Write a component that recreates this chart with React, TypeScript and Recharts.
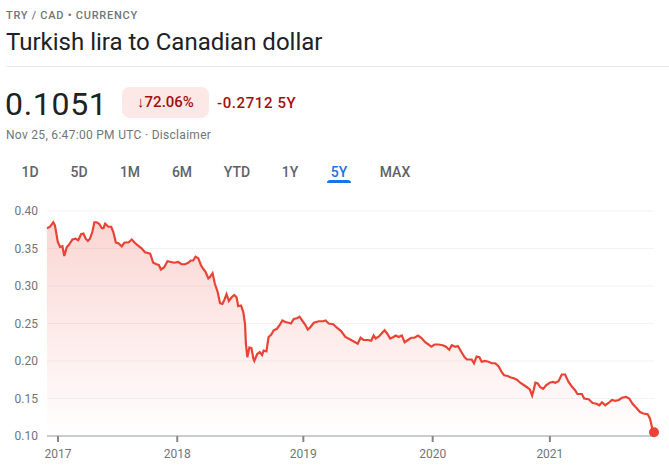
import { Area, AreaChart, CartesianGrid, ReferenceDot, XAxis, YAxis } from 'recharts';

// weeks since Nov 25, 2016 and TRY/CAD rate
const WEEKS = [
  0, 1.3, 2.7, 3.4, 4.6, 5.6, 6.6, 7.4, 8.5, 9.4, 10.9, 12.3, 13.4, 14.6, 15.6, 16.6, 17.5, 18.4, 19.4, 20.3,
  21.3, 22.3, 23.5, 24.2, 24.9, 26.3, 27.5, 28.4, 29.5, 30.6, 32.0, 33.2, 34.9, 36.3, 37.5, 38.9, 40.6, 42.0,
  44.2, 45.5, 46.9, 47.9, 48.8, 50.2, 51.6, 53.1, 54.5, 56.2, 57.6, 59.1, 60.5, 61.6, 62.6, 63.6, 64.8, 65.9,
  66.9, 67.9, 69.1, 69.8, 70.9, 71.9, 73.1, 74.1, 75.1, 75.9, 76.9, 77.9, 79.1, 80.2, 81.2, 81.9, 83.1, 84.1,
  84.8, 85.2, 85.8, 86.7, 87.6, 88.4, 88.8, 90.0, 91.1, 92.1, 92.8, 94.0, 94.9, 96.0, 97.1, 98.5, 99.7, 100.8,
  102.1, 103.5, 104.5, 105.7, 107.1, 108.2, 109.3, 110.7, 111.7, 112.8, 114.3, 116.4, 118.3, 119.3, 120.7,
  122.6, 124.3, 126.0, 127.8, 129.7, 131.4, 133.1, 134.3, 135.6, 137.4, 138.9, 139.9, 140.8, 142.3, 143.4,
  144.6, 145.6, 147.0, 148.4, 149.4, 150.6, 152.0, 153.2, 154.6, 156.0, 157.4, 158.9, 160.3, 162.0, 163.4,
  164.6, 166.0, 167.7, 169.5, 170.9, 172.3, 173.4, 174.9, 176.0, 177.5, 178.9, 179.9, 181.9, 182.9, 184.0,
  185.2, 186.2, 187.6, 189.1, 190.5, 192.0, 193.4, 194.8, 195.8, 197.3, 198.7, 199.9, 201.3, 202.7, 204.2,
  205.6, 206.8, 207.8, 208.5, 209.2, 210.2, 211.3, 212.5, 213.9, 215.3, 216.7, 217.7, 219.1, 220.5, 221.9,
  223.4, 224.8, 226.2, 227.2, 229.1, 230.1, 232.0, 233.7, 235.4, 236.6, 237.7, 239.1, 240.5, 242.0, 243.4,
  244.9, 246.3, 248.0, 249.4, 250.8, 252.6, 254.0, 255.4, 257.3, 258.3, 259.1, 260,
];

const RATES = [
  0.377, 0.379, 0.385, 0.381, 0.359, 0.352, 0.353, 0.34, 0.352, 0.355, 0.362, 0.363, 0.361, 0.369, 0.37, 0.363,
  0.36, 0.363, 0.372, 0.385, 0.385, 0.383, 0.377, 0.377, 0.383, 0.379, 0.379, 0.372, 0.358, 0.357, 0.353, 0.358,
  0.358, 0.362, 0.358, 0.354, 0.35, 0.345, 0.343, 0.331, 0.329, 0.328, 0.322, 0.325, 0.333, 0.332, 0.331, 0.332,
  0.329, 0.329, 0.331, 0.334, 0.334, 0.339, 0.337, 0.328, 0.323, 0.319, 0.31, 0.312, 0.317, 0.303, 0.292, 0.277,
  0.276, 0.281, 0.289, 0.28, 0.285, 0.288, 0.285, 0.273, 0.274, 0.265, 0.25, 0.223, 0.205, 0.218, 0.217, 0.203,
  0.2, 0.209, 0.212, 0.208, 0.214, 0.213, 0.232, 0.235, 0.241, 0.243, 0.248, 0.254, 0.252, 0.251, 0.25, 0.256,
  0.257, 0.259, 0.254, 0.248, 0.242, 0.245, 0.251, 0.253, 0.253, 0.254, 0.25, 0.249, 0.244, 0.24, 0.232, 0.229,
  0.226, 0.223, 0.231, 0.228, 0.228, 0.227, 0.234, 0.23, 0.233, 0.237, 0.241, 0.237, 0.23, 0.232, 0.234, 0.232,
  0.234, 0.225, 0.228, 0.231, 0.231, 0.234, 0.231, 0.225, 0.222, 0.219, 0.222, 0.222, 0.221, 0.219, 0.215, 0.221,
  0.219, 0.22, 0.212, 0.205, 0.202, 0.202, 0.197, 0.206, 0.205, 0.199, 0.2, 0.199, 0.197, 0.197, 0.193, 0.185,
  0.181, 0.18, 0.178, 0.177, 0.175, 0.171, 0.168, 0.165, 0.162, 0.154, 0.162, 0.171, 0.17, 0.165, 0.163, 0.168,
  0.171, 0.172, 0.171, 0.173, 0.182, 0.182, 0.172, 0.166, 0.161, 0.156, 0.156, 0.15, 0.149, 0.144, 0.143, 0.141,
  0.145, 0.141, 0.144, 0.148, 0.147, 0.148, 0.151, 0.152, 0.15, 0.143, 0.137, 0.132, 0.13, 0.129, 0.123, 0.112,
  0.1051,
];

const YEAR_TICKS = [4.7, 55.8, 109.8, 165.2, 215.4];
const YEAR_LABELS = ['2017', '2018', '2019', '2020', '2021'];
const RATE_TICKS = [0.1, 0.15, 0.2, 0.25, 0.3, 0.35, 0.4];
const RANGES = ['1D', '5D', '1M', '6M', 'YTD', '1Y', '5Y', 'MAX'];
const RANGE_CENTERS = [30, 79, 130, 182, 237, 290, 339, 395];

const data = WEEKS.map((week, i) => ({ week, rate: RATES[i] }));

const RED = '#ea4335';
const GREY = '#70757a';
const FONT = 'Roboto, Arial, sans-serif';

export default function App() {
  const last = data[data.length - 1];
  return (
    <div
      style={{
        position: 'absolute',
        left: 0,
        top: 0,
        width: 669,
        height: 470,
        background: '#fff',
        fontFamily: FONT,
        color: '#202124',
        overflow: 'hidden',
      }}
    >
      <div
        style={{
          position: 'absolute',
          left: 6,
          top: 10,
          fontSize: 11,
          lineHeight: '11px',
          fontWeight: 500,
          letterSpacing: 0.75,
          color: GREY,
          whiteSpace: 'nowrap',
        }}
      >
        TRY / CAD • CURRENCY
      </div>
      <div style={{ position: 'absolute', left: 6, top: 30, fontSize: 24, lineHeight: '24px', whiteSpace: 'nowrap' }}>
        Turkish lira to Canadian dollar
      </div>
      <div style={{ position: 'absolute', left: 6, right: 0, top: 66, height: 1, background: '#e8eaed' }} />

      <div style={{ position: 'absolute', left: 5, top: 87.5, fontSize: 32, lineHeight: '32px', letterSpacing: 0.7 }}>
        0.1051
      </div>
      <div
        style={{
          position: 'absolute',
          left: 122,
          top: 87,
          width: 87,
          height: 31,
          borderRadius: 8,
          background: '#fce8e6',
          color: '#a50e0e',
          fontSize: 15,
          fontWeight: 500,
          lineHeight: '31px',
          textAlign: 'center',
          whiteSpace: 'nowrap',
        }}
      >
        ↓72.06%
      </div>
      <div
        style={{
          position: 'absolute',
          left: 217,
          top: 96,
          fontSize: 15,
          lineHeight: '15px',
          fontWeight: 500,
          letterSpacing: 0.6,
          color: '#a50e0e',
          whiteSpace: 'nowrap',
        }}
      >
        -0.2712 5Y
      </div>
      <div
        style={{
          position: 'absolute',
          left: 6,
          top: 128.5,
          fontSize: 12,
          lineHeight: '12px',
          letterSpacing: 0.3,
          color: GREY,
          whiteSpace: 'nowrap',
        }}
      >
        Nov 25, 6:47:00 PM UTC · Disclaimer
      </div>

      {RANGES.map((r, i) => (
        <div
          key={r}
          style={{
            position: 'absolute',
            left: RANGE_CENTERS[i] - 30,
            width: 60,
            top: 165,
            fontSize: 14,
            lineHeight: '14px',
            fontWeight: 500,
            textAlign: 'center',
            color: r === '5Y' ? '#1a73e8' : '#5f6368',
          }}
        >
          {r}
        </div>
      ))}
      <div
        style={{
          position: 'absolute',
          left: 327,
          top: 180,
          width: 24,
          height: 3,
          borderRadius: '3px 3px 0 0',
          background: '#1a73e8',
        }}
      />

      <div style={{ position: 'absolute', left: 0, top: 200 }}>
        <AreaChart width={669} height={270} data={data} margin={{ top: 11, right: 15, bottom: 0, left: 0 }}>
          <defs>
            <linearGradient id="tryFill" x1="0" y1="0" x2="0" y2="1">
              <stop offset="0%" stopColor={RED} stopOpacity={0.36} />
              <stop offset="100%" stopColor={RED} stopOpacity={0} />
            </linearGradient>
          </defs>
          <CartesianGrid vertical={false} stroke="#f1f3f4" />
          <XAxis
            type="number"
            dataKey="week"
            domain={[0, 260]}
            ticks={YEAR_TICKS}
            tickFormatter={(v) => YEAR_LABELS[YEAR_TICKS.indexOf(v)] ?? ''}
            height={34}
            axisLine={{ stroke: '#9aa0a6' }}
            tickLine={{ stroke: '#80868b', strokeWidth: 2 }}
            tickSize={6}
            tickMargin={7}
            tick={{ fill: GREY, fontSize: 12, fontFamily: FONT }}
          />
          <YAxis
            type="number"
            domain={[0.1, 0.4]}
            ticks={RATE_TICKS}
            tickFormatter={(v) => Number(v).toFixed(2)}
            width={47}
            axisLine={false}
            tickLine={false}
            tickMargin={3}
            tick={{ fill: GREY, fontSize: 12, fontFamily: FONT }}
          />
          <Area
            type="linear"
            dataKey="rate"
            stroke={RED}
            strokeWidth={2.2}
            fill="url(#tryFill)"
            dot={false}
            activeDot={false}
            isAnimationActive={false}
          />
          <ReferenceDot x={last.week} y={last.rate} r={5} fill={RED} stroke="none" />
        </AreaChart>
      </div>
    </div>
  );
}
